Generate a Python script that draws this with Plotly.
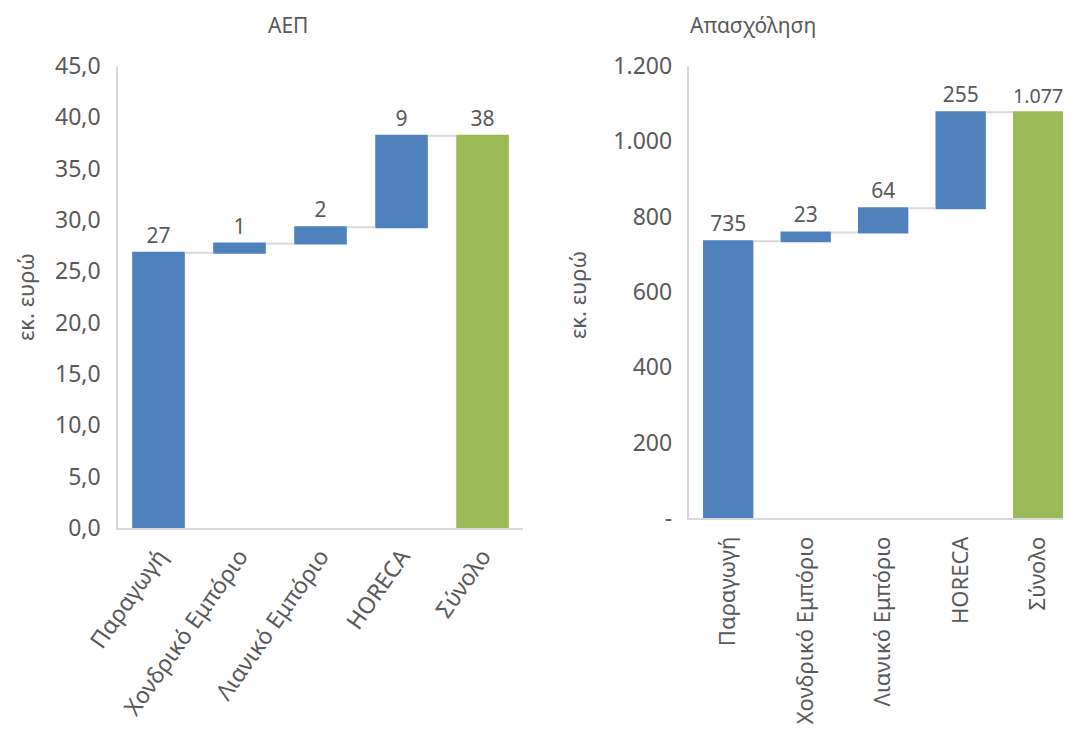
import plotly.graph_objects as go

# ---- data ----
categories = ["Παραγωγή", "Χονδρικό Εμπόριο", "Λιανικό Εμπόριο", "HORECA", "Σύνολο"]
gdp_values = [26.8, 0.9, 1.6, 8.9]          # εκ. ευρώ
emp_values = [735, 23, 64, 255]
gdp_ticks = [0, 5, 10, 15, 20, 25, 30, 35, 40, 45]
emp_ticks = [0, 200, 400, 600, 800, 1000, 1200]
emp_ticklabels = ["-", "200", "400", "600", "800", "1.000", "1.200"]

BLUE = "#4F81BD"
GREEN = "#9BBB59"
GREY = "#595959"
LINE = "#D9D9D9"
FONT = "Noto Sans"


def fmt_int(v):
    return f"{round(v):,}".replace(",", ".")


def waterfall(values, xaxis, yaxis):
    total = sum(values)
    ys = list(values) + [0]
    labels = [fmt_int(v) for v in values] + [fmt_int(total)]
    return go.Waterfall(
        x=categories, y=ys,
        measure=["relative"] * len(values) + ["total"],
        text=labels, textposition="outside",
        textfont=dict(size=21, color=GREY, family=FONT),
        increasing=dict(marker=dict(color=BLUE)),
        totals=dict(marker=dict(color=GREEN)),
        connector=dict(line=dict(color=LINE, width=2)),
        xaxis=xaxis, yaxis=yaxis, showlegend=False, cliponaxis=False,
    )


fig = go.Figure()
fig.add_trace(waterfall(gdp_values, "x", "y"))
fig.add_trace(waterfall(emp_values, "x2", "y2"))

axis_common = dict(showgrid=False, zeroline=False, showline=True,
                   linecolor=LINE, linewidth=1.5, ticks="", automargin=False)
tick23 = dict(size=23, color=GREY, family=FONT)
tick22 = dict(size=22, color=GREY, family=FONT)

# the page body adds an 8px offset, so paper positions are shifted by 8px
fig.update_layout(
    width=1071, height=733,
    margin=dict(l=0, r=0, t=0, b=0),
    paper_bgcolor="white", plot_bgcolor="white",
    separators=",.",
    waterfallgap=0.35,
    font=dict(family=FONT, color=GREY),
    xaxis=dict(domain=[0.1027, 0.4809], tickangle=-55, ticklabelstandoff=4,
               tickfont=tick23, **axis_common),
    yaxis=dict(domain=[0.2906, 0.9209], range=[0, 45], tickvals=gdp_ticks,
               tickformat=".1f", ticklabelstandoff=11, tickfont=tick23,
               **axis_common),
    xaxis2=dict(domain=[0.6363, 0.998], tickangle=-90, anchor="y2",
                ticklabelstandoff=8, tickfont=tick22, **axis_common),
    yaxis2=dict(domain=[0.3042, 0.9209], range=[0, 1200], anchor="x2",
                tickvals=emp_ticks, ticktext=emp_ticklabels,
                ticklabelstandoff=11, tickfont=tick23, **axis_common),
    annotations=[
        dict(text="ΑΕΠ", x=0.2409, y=0.9768, xref="paper", yref="paper",
             yanchor="middle", showarrow=False, font=dict(size=21, color=GREY)),
        dict(text="Απασχόληση", x=0.7563, y=0.9768, xref="paper", yref="paper",
             yanchor="middle", showarrow=False, font=dict(size=21, color=GREY)),
        dict(text="εκ. ευρώ", x=0.0159, y=0.6057, xref="paper", yref="paper",
             xanchor="center", yanchor="middle", textangle=-90,
             showarrow=False, font=dict(size=22, color=GREY)),
        dict(text="εκ. ευρώ", x=0.5313, y=0.6085, xref="paper", yref="paper",
             xanchor="center", yanchor="middle", textangle=-90,
             showarrow=False, font=dict(size=22, color=GREY)),
    ],
)

fig.write_html("out.html")
